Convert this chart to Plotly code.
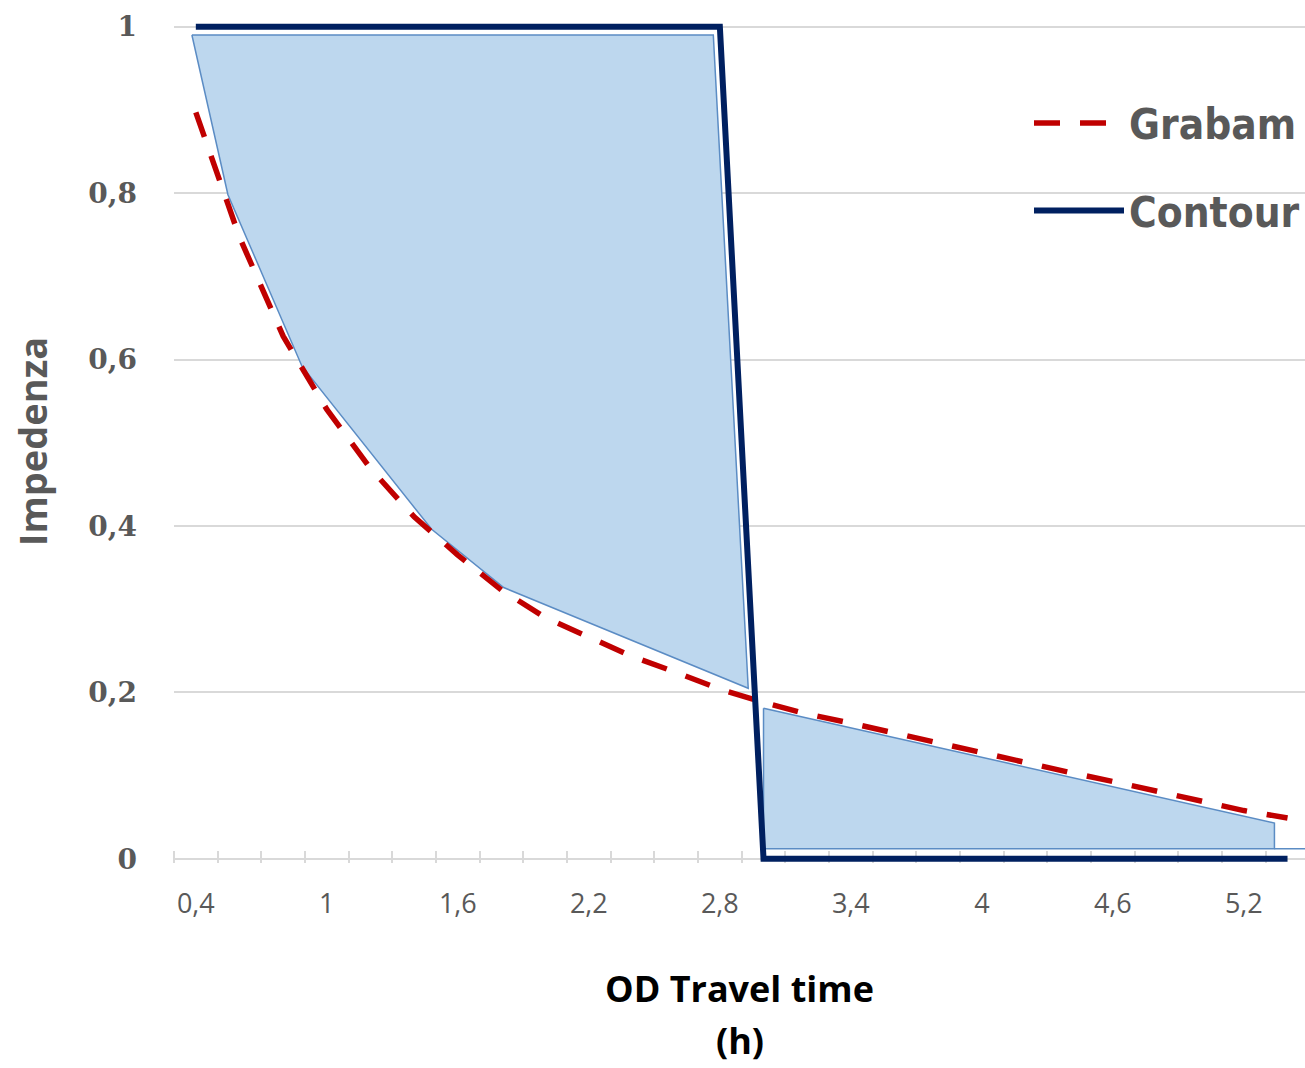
import plotly.graph_objects as go

# Categories (OD travel time, h)
time_h = [0.4, 0.6, 0.8, 1.0, 1.2, 1.4, 1.6, 1.8, 2.0, 2.2, 2.4, 2.6, 2.8,
          3.0, 3.2, 3.4, 3.6, 3.8, 4.0, 4.2, 4.4, 4.6, 4.8, 5.0, 5.2, 5.4]

grabam = [0.897, 0.747, 0.628, 0.540, 0.469, 0.411, 0.365, 0.323, 0.290, 0.266,
          0.243, 0.224, 0.204, 0.188, 0.174, 0.163, 0.151, 0.139, 0.127, 0.116,
          0.104, 0.093, 0.081, 0.069, 0.058, 0.049]

contour = [1, 1, 1, 1, 1, 1, 1, 1, 1, 1, 1, 1, 1,
           0, 0, 0, 0, 0, 0, 0, 0, 0, 0, 0, 0, 0]

# Shaded band (upper part)
band1_x = [0.382, 2.77, 2.93, 1.81, 1.48, 0.886, 0.547, 0.382]
band1_y = [0.99, 0.99, 0.205, 0.326, 0.396, 0.592, 0.798, 0.99]
# Shaded band (lower part)
band2_x = [3.0, 5.34, 5.34, 3.0, 3.0]
band2_y = [0.181, 0.043, 0.012, 0.012, 0.181]
band2_base_x = [5.34, 5.5]
band2_base_y = [0.012, 0.012]

x_tickvals = [0.4, 1.0, 1.6, 2.2, 2.8, 3.4, 4.0, 4.6, 5.2]
x_ticktext = ["0,4", "1", "1,6", "2,2", "2,8", "3,4", "4", "4,6", "5,2"]
y_tickvals = [0, 0.2, 0.4, 0.6, 0.8, 1]
y_ticktext = ["0", "0,2", "0,4", "0,6", "0,8", "1"]

FILL = "#bdd7ee"
EDGE = "#5b8cc4"
NAVY = "#002060"
RED = "#c00000"
GREY = "#595959"

fig = go.Figure()
fig.add_trace(go.Scatter(x=band1_x, y=band1_y, mode="lines", fill="toself",
                         fillcolor=FILL, line=dict(color=EDGE, width=1.5),
                         showlegend=False, hoverinfo="skip"))
fig.add_trace(go.Scatter(x=band2_x, y=band2_y, mode="lines", fill="toself",
                         fillcolor=FILL, line=dict(color=EDGE, width=1.5),
                         showlegend=False, hoverinfo="skip"))
fig.add_trace(go.Scatter(x=band2_base_x, y=band2_base_y, mode="lines",
                         line=dict(color=EDGE, width=1.5),
                         showlegend=False, hoverinfo="skip"))
fig.add_trace(go.Scatter(x=time_h, y=grabam, mode="lines", name="Grabam",
                         legendgroup="g", line=dict(color=RED, width=5.5, dash="26px,20px")))
fig.add_trace(go.Scatter(x=time_h, y=contour, mode="lines", name="Contour",
                         legendgroup="c", line=dict(color=NAVY, width=6)))

fig.update_layout(
    width=1305, height=1068,
    margin=dict(l=174, r=0, t=20, b=205),
    paper_bgcolor="white", plot_bgcolor="white",
    font=dict(family="Open Sans", color=GREY),
    legend=dict(x=1.0, xanchor="right", y=0.918, yanchor="top",
                font=dict(family="Liberation Sans Narrow, DejaVu Sans Condensed, Open Sans",
                          size=42, color=GREY, weight="bold"),
                traceorder="grouped", tracegroupgap=30, itemwidth=90,
                bgcolor="rgba(0,0,0,0)"),
    xaxis=dict(range=[0.3, 5.48], tickmode="array", tickvals=x_tickvals,
               ticktext=x_ticktext, ticks="", showgrid=False, zeroline=False,
               showline=False, ticklabelstandoff=22, layer="below traces",
               tickfont=dict(family="Open Sans", size=27, color=GREY),
               minor=dict(tickmode="linear", tick0=0.3, dtick=0.2, ticks="inside",
                          ticklen=12, tickwidth=1.5, tickcolor="#d9d9d9", showgrid=False),
               title=dict(text="<b>OD Travel time</b>", standoff=56,
                          font=dict(family="Open Sans", size=36, color="black"))),
    yaxis=dict(range=[-0.005, 1.008], tickmode="array", tickvals=y_tickvals,
               ticktext=y_ticktext, showgrid=True, gridcolor="#d9d9d9", gridwidth=1.5,
               zeroline=True, zerolinecolor="#d9d9d9", zerolinewidth=2,
               showline=False, ticks="", ticklabelstandoff=36, layer="below traces",
               tickfont=dict(family="DejaVu Serif", size=28, color=GREY, weight="bold"),
               title=dict(text="<b>Impedenza</b>", standoff=28,
                          font=dict(family="Open Sans", size=38, color=GREY))),
    annotations=[dict(text="<b>(h)</b>", xref="paper", yref="paper", x=0.5,
                      y=-0.2105, xanchor="center", yanchor="middle", showarrow=False,
                      font=dict(family="Open Sans", size=36, color="black"))],
)

fig.write_html("out.html", config={"displayModeBar": False},
               post_script="document.body.style.margin='0px';")
